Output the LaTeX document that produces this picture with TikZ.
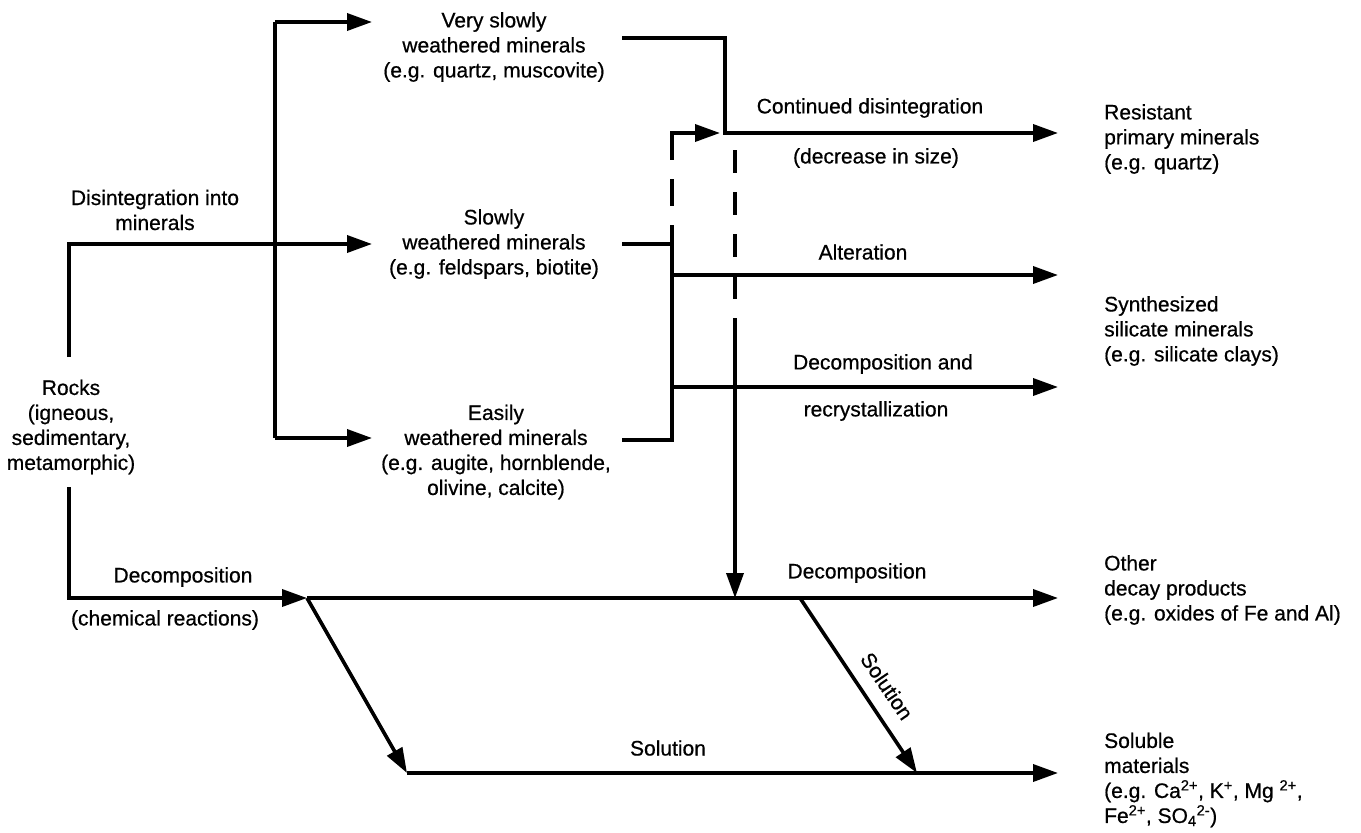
\documentclass[tikz,border=0pt]{standalone}
\usepackage{fontspec}
\setmainfont{Liberation Sans}[FakeBold=0.6]
\usetikzlibrary{arrows.meta}
\begin{document}
\begin{tikzpicture}[x=1pt,y=-1pt,
  ln/.style={line width=3.6pt, line join=miter},
  arr/.style={ln, -{Triangle[length=25pt,width=17pt]}},
  dsh/.style={ln, dash pattern=on 27pt off 19pt},
  dsh2/.style={ln, dash pattern=on 23pt off 19pt},
  txt/.style={font=\fontsize{21}{25}\selectfont, align=center, inner sep=0pt},
  rtxt/.style={font=\fontsize{21}{25}\selectfont, align=left, inner sep=0pt, anchor=west}]
\useasboundingbox (0,0) rectangle (1361,833);
\fill[white] (0,0) rectangle (1361,833);

% text nodes
\node[txt] (rocks) at (71,427) {Rocks\\(igneous,\\sedimentary,\\metamorphic)};
\node[txt] (vslow) at (494,47) {Very slowly\\weathered minerals\\(e.g. quartz, muscovite)};
\node[txt] (slow) at (494,244) {Slowly\\weathered minerals\\(e.g. feldspars, biotite)};
\node[txt] (easy) at (496,452) {Easily\\weathered minerals\\(e.g. augite, hornblende,\\olivine, calcite)};
\node[rtxt] (resist) at (1104,139) {Resistant\\primary minerals\\(e.g. quartz)};
\node[rtxt] (synth) at (1104,331) {Synthesized\\silicate minerals\\(e.g. silicate clays)};
\node[rtxt] (other) at (1104,590) {Other\\decay products\\(e.g. oxides of Fe and Al)};
\node[rtxt] (soluble) at (1104,780) {Soluble\\materials\\(e.g. Ca\textsuperscript{2+}, K\textsuperscript{+}, Mg \textsuperscript{2+},\\Fe\textsuperscript{2+}, SO\textsubscript{4}\textsuperscript{2-})};

\node[txt] (ldis) at (155,210) {Disintegration into\\minerals};
\node[txt] (ldec1) at (183,577) {Decomposition};
\node[txt] (lchem) at (165,620) {(chemical reactions)};
\node[txt] (lcont) at (870,108) {Continued disintegration};
\node[txt] (lsize) at (876,158) {(decrease in size)};
\node[txt] (lalt) at (863,252) {Alteration};
\node[txt] (ldecand) at (883,364) {Decomposition and};
\node[txt] (lrecr) at (876,411) {recrystallization};
\node[txt] (ldec2) at (857,573) {Decomposition};
\node[txt] (lsol) at (668,748) {Solution};
\node[txt, rotate=-55.8] (lsol2) at (887,686) {Solution};

% coordinates
\coordinate (rtop) at (69,357);
\coordinate (rbot) at (69,487);
\coordinate (vsIn) at (372,22);
\coordinate (slIn) at (372,244);
\coordinate (eaIn) at (372,438);
\coordinate (bTop) at (275,22);
\coordinate (bBot) at (275,438);
\coordinate (vsOut) at (622,38);
\coordinate (slOut) at (622,244);
\coordinate (eaOut) at (622,440);
\coordinate (jA) at (672,244);
\coordinate (jB) at (672,440);
\coordinate (jC) at (725,133);
\coordinate (jAlt) at (672,275);
\coordinate (jRec) at (672,387);
\coordinate (dTip) at (720,133);
\coordinate (dTop) at (672,133);
\coordinate (dStub) at (672,150);
\coordinate (v2top) at (735,150);
\coordinate (v2mid) at (735,320);
\coordinate (v2bot) at (735,598);
\coordinate (resIn) at (1058,133);
\coordinate (altIn) at (1058,275);
\coordinate (recIn) at (1058,387);
\coordinate (othIn) at (1058,598);
\coordinate (solIn) at (1058,773);
\coordinate (d1) at (307,598);
\coordinate (d2) at (800,598);
\coordinate (s1) at (407,773);
\coordinate (s2) at (917,773);

% rocks to minerals
\draw[arr] (rtop) |- (slIn);
\draw[arr] (bTop) -- (vsIn);
\draw[ln] (bTop) -- (bBot);
\draw[arr] (bBot) -- (eaIn);

% very slowly -> resistant
\draw[arr] (vsOut) -| (jC) -- (resIn);
% slowly / easily
\draw[ln] (slOut) -- (jA) -- (jB) -- (eaOut);
\draw[arr] (jAlt) -- (altIn);
\draw[arr] (jRec) -- (recIn);
% dashed from slowly
\draw[dsh] (dTop) -- (jA);
\draw[arr] (dStub) -- (dTop) -- (dTip);
% dashed down line
\draw[dsh2] (v2top) -- (v2mid);
\draw[arr] (v2mid) -- (v2bot);

% decomposition
\draw[arr] (rbot) |- (d1);
\draw[arr] (d1) -- (othIn);
\draw[arr] (d1) -- (s1);
\draw[arr] (d2) -- (s2);
\draw[arr] (s1) -- (solIn);
\end{tikzpicture}
\end{document}
